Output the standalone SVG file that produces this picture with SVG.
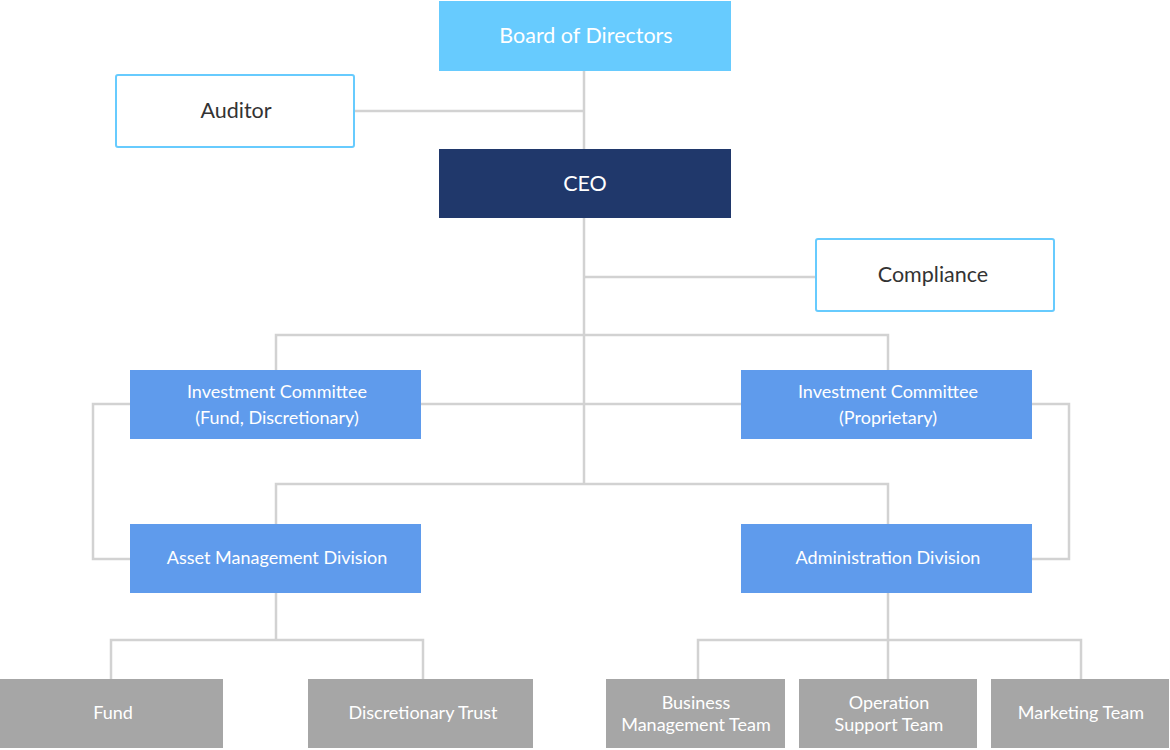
<svg xmlns="http://www.w3.org/2000/svg" width="1170" height="750" viewBox="0 0 1170 750">
<style>
text{font-family:Lato,"Open Sans","Liberation Sans",sans-serif;text-anchor:middle;dominant-baseline:central}
.top{fill:#67CBFE}
.ceo{fill:#20386B}
.side{fill:#fff;stroke:#67CBFE;stroke-width:2}
.blue{fill:#5F9BEC}
.grey{fill:#A6A6A6}
.w20{fill:#fff;font-size:21.5px}
.d20{fill:#333;font-size:21.5px}
.w17{fill:#fff;font-size:18px}
.conn{fill:none;stroke:#D2D2D2;stroke-width:2.5}
</style>
<rect width="1170" height="750" fill="#fff"/>
<g id="connectors" class="conn">
<path d="M584 71V149M354 111H584"/>
<path d="M584 218V484M584 277H816"/>
<path d="M276 370V335H888V370"/>
<path d="M421 404H741"/>
<path d="M130 404H93V559H130"/>
<path d="M1032 404H1069V559H1032"/>
<path d="M276 524V484H888V524"/>
<path d="M276 593V640M111 679V640H423V679"/>
<path d="M888 593V679M698 679V640H1081V679"/>
</g>
<g id="board"><rect class="top" x="439" y="1" width="292" height="70"/><text class="w20" x="586" y="35">Board of Directors</text></g>
<g id="auditor"><rect class="side" x="116" y="75" width="238" height="72" rx="2"/><text class="d20" x="236" y="110">Auditor</text></g>
<g id="ceo"><rect class="ceo" x="439" y="149" width="292" height="69"/><text class="w20" x="585" y="183">CEO</text></g>
<g id="compliance"><rect class="side" x="816" y="239" width="238" height="72" rx="2"/><text class="d20" x="933" y="274">Compliance</text></g>
<g id="ic-fund"><rect class="blue" x="130" y="370" width="291" height="69"/><text class="w17" x="277" y="391">Investment Committee</text><text class="w17" x="277" y="417">(Fund, Discretionary)</text></g>
<g id="ic-prop"><rect class="blue" x="741" y="370" width="291" height="69"/><text class="w17" x="888" y="391">Investment Committee</text><text class="w17" x="888" y="417">(Proprietary)</text></g>
<g id="amd"><rect class="blue" x="130" y="524" width="291" height="69"/><text class="w17" x="277" y="557">Asset Management Division</text></g>
<g id="ad"><rect class="blue" x="741" y="524" width="291" height="69"/><text class="w17" x="888" y="557">Administration Division</text></g>
<g id="fund"><rect class="grey" x="0" y="679" width="223" height="69"/><text class="w17" x="113" y="712">Fund</text></g>
<g id="dtrust"><rect class="grey" x="308" y="679" width="225" height="69"/><text class="w17" x="423" y="712">Discretionary Trust</text></g>
<g id="bmt"><rect class="grey" x="606" y="679" width="179" height="69"/><text class="w17" x="696" y="702">Business</text><text class="w17" x="696" y="724">Management Team</text></g>
<g id="ost"><rect class="grey" x="799" y="679" width="178" height="69"/><text class="w17" x="889" y="702">Operation</text><text class="w17" x="889" y="724">Support Team</text></g>
<g id="mt"><rect class="grey" x="991" y="679" width="178" height="69"/><text class="w17" x="1081" y="712">Marketing Team</text></g>
</svg>
